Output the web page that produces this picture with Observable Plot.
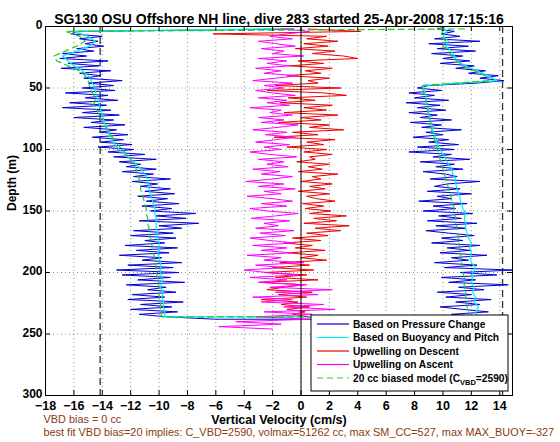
<!DOCTYPE html>
<html><head><meta charset="utf-8">
<script src="https://cdn.jsdelivr.net/npm/d3@7"></script>
<script src="https://cdn.jsdelivr.net/npm/@observablehq/plot@0.6"></script>
<style>
body{margin:0;background:#fff;}
#chart{width:560px;height:442px;}
</style></head><body><div id="chart"></div>
<script>
// ---- data: [depth (m), vertical velocity (cm/s)] ----
const pressureDescent = [[2,-0.5],[4,-15.8],[6,-16.2],[8,-14.0],[10,-15.6],[12,-14.3],[14,-15.2],[16,-13.9],[18,-15.8],[20,-14.6],[22,-16.8],[24,-15.1],[26,-17.0],[28,-13.6],[30,-16.4],[32,-14.2],[34,-16.9],[36,-13.4],[38,-15.6],[40,-14.1],[42,-15.3],[44,-12.6],[46,-15.0],[48,-13.2],[50,-15.4],[52,-13.1],[54,-16.6],[56,-13.6],[58,-15.2],[60,-12.9],[62,-16.3],[64,-13.7],[66,-16.8],[68,-13.4],[70,-15.4],[72,-12.8],[74,-16.0],[76,-13.2],[78,-14.8],[80,-12.4],[82,-15.3],[84,-13.0],[86,-14.2],[88,-12.2],[90,-14.7],[92,-12.5],[94,-14.1],[96,-11.9],[98,-14.3],[100,-11.8],[102,-13.6],[104,-11.0],[106,-13.2],[108,-10.2],[110,-12.8],[112,-11.3],[114,-12.3],[116,-10.2],[118,-12.6],[120,-10.4],[122,-11.8],[124,-9.2],[126,-11.9],[128,-10.1],[130,-11.3],[132,-9.2],[134,-11.0],[136,-8.9],[138,-11.5],[140,-9.4],[142,-10.9],[144,-8.6],[146,-11.2],[148,-9.1],[150,-10.6],[152,-7.4],[154,-10.2],[156,-8.1],[158,-11.4],[160,-7.2],[162,-10.0],[164,-8.4],[166,-11.8],[168,-9.0],[170,-12.0],[172,-8.8],[174,-11.0],[176,-9.6],[178,-12.4],[180,-8.7],[182,-11.6],[184,-9.3],[186,-12.8],[188,-9.8],[190,-11.2],[192,-8.4],[194,-12.2],[196,-9.0],[198,-13.0],[200,-8.6],[202,-12.6],[204,-9.2],[206,-11.5],[208,-8.2],[210,-12.3],[212,-9.5],[214,-10.8],[216,-8.8],[218,-11.9],[220,-9.6],[222,-12.2],[224,-8.3],[226,-11.3],[228,-9.1],[230,-12.0],[232,-8.7],[234,-11.4],[236,-9.5],[238,-6.0]];
const pressureAscent = [[238,11.0],[236,12.8],[234,10.6],[232,13.2],[230,11.4],[228,9.8],[226,12.6],[224,10.9],[222,13.4],[220,10.2],[218,12.0],[216,9.6],[214,12.9],[212,11.1],[210,14.6],[208,10.4],[206,12.3],[204,9.9],[202,13.8],[200,11.2],[198,14.9],[196,10.1],[194,12.4],[192,9.4],[190,11.8],[188,10.6],[186,13.1],[184,9.8],[182,11.9],[180,10.3],[178,12.6],[176,9.2],[174,11.4],[172,9.9],[170,12.2],[168,10.4],[166,8.8],[164,11.6],[162,9.5],[160,12.4],[158,8.9],[156,11.3],[154,9.7],[152,12.1],[150,8.6],[148,10.9],[146,9.3],[144,11.7],[142,8.3],[140,10.6],[138,9.6],[136,12.0],[134,8.9],[132,11.2],[130,9.4],[128,10.3],[126,12.6],[124,9.1],[122,11.0],[120,10.2],[118,8.6],[116,11.4],[114,9.5],[112,10.8],[110,8.4],[108,11.9],[106,9.3],[104,10.6],[102,7.6],[100,10.8],[98,8.2],[96,11.1],[94,9.0],[92,10.4],[90,7.9],[88,10.0],[86,8.8],[84,11.3],[82,8.5],[80,9.9],[78,7.7],[76,10.6],[74,8.4],[72,9.6],[70,7.6],[68,10.2],[66,8.2],[64,9.8],[62,7.4],[60,10.4],[58,8.0],[56,9.4],[54,7.6],[52,9.9],[50,8.2],[48,9.0],[46,12.4],[44,14.3],[42,12.6],[40,13.9],[38,11.8],[36,13.0],[34,10.9],[32,12.2],[30,9.8],[28,11.9],[26,10.0],[24,11.4],[22,9.2],[20,12.3],[18,9.6],[16,11.8],[14,9.0],[12,12.6],[10,9.4],[8,11.2],[6,9.9],[4,10.8],[2,9.6],[0,10.2]];
const buoyancyDescent = [[2,-2.0],[4,-16.0],[8,-15.0],[12,-14.5],[16,-14.9],[20,-15.8],[24,-16.8],[28,-16.4],[32,-16.0],[36,-15.4],[40,-15.0],[44,-14.8],[48,-14.6],[52,-14.5],[56,-14.4],[60,-14.3],[64,-14.2],[68,-14.1],[72,-14.0],[76,-13.9],[80,-13.8],[84,-13.6],[88,-13.5],[92,-13.4],[96,-13.1],[100,-12.8],[104,-12.4],[108,-12.0],[112,-11.6],[116,-11.3],[120,-11.0],[124,-10.8],[128,-10.8],[132,-10.7],[136,-10.6],[140,-10.5],[144,-10.4],[148,-10.3],[152,-10.3],[156,-10.2],[160,-10.2],[164,-10.2],[168,-10.1],[172,-10.1],[176,-10.0],[180,-10.0],[184,-10.1],[188,-10.0],[192,-9.9],[196,-9.9],[200,-9.9],[204,-9.8],[208,-9.8],[212,-9.9],[216,-9.7],[220,-9.8],[224,-9.7],[228,-9.7],[232,-9.6],[236,-9.6]];
const buoyancyAscent = [[236,12.4],[232,12.3],[228,12.5],[224,12.2],[220,12.3],[216,12.1],[212,12.2],[208,12.0],[204,12.1],[200,12.1],[196,12.3],[192,12.0],[188,11.9],[184,12.0],[180,11.9],[176,12.0],[172,11.8],[168,11.7],[164,11.6],[160,11.6],[156,11.5],[152,11.6],[148,11.4],[144,11.3],[140,11.2],[136,11.1],[132,11.0],[128,10.9],[124,10.9],[120,10.7],[116,10.6],[112,10.4],[108,10.2],[104,10.0],[100,9.8],[96,9.6],[92,9.5],[88,9.4],[84,9.3],[80,9.2],[76,9.1],[72,9.0],[68,9.0],[64,8.9],[60,8.8],[56,8.8],[52,8.7],[48,8.6],[44,13.8],[40,13.2],[36,12.4],[32,11.6],[28,11.0],[24,10.8],[20,10.6],[16,10.2],[12,10.4],[8,10.0],[4,10.3],[0,9.8]];
const upwellingDescent = [[2,0.5],[4,4.2],[6,-6.2],[8,1.8],[10,0.4],[12,2.6],[14,0.2],[16,1.9],[18,-0.4],[20,2.4],[22,0.8],[24,3.0],[26,4.0],[28,-0.2],[30,1.6],[32,-0.8],[34,2.2],[36,0.3],[38,1.4],[40,-1.0],[42,2.0],[44,0.5],[46,1.2],[48,-1.8],[50,2.8],[52,-2.4],[54,1.6],[56,3.2],[58,-0.9],[60,1.0],[62,-1.5],[64,2.2],[66,0.2],[68,1.8],[70,-1.2],[72,2.6],[74,0.0],[76,1.4],[78,-1.6],[80,2.0],[82,0.6],[84,3.0],[86,-0.6],[88,1.2],[90,-1.9],[92,2.4],[94,0.4],[96,1.6],[98,-1.0],[100,1.8],[102,0.2],[104,2.2],[106,0.6],[108,1.0],[110,-0.3],[112,2.0],[114,0.5],[116,1.5],[118,-0.2],[120,2.6],[122,0.8],[124,1.4],[126,0.0],[128,2.2],[130,0.6],[132,1.7],[134,-0.2],[136,2.0],[138,0.4],[140,1.1],[142,2.4],[144,0.1],[146,1.6],[148,0.3],[150,2.1],[152,0.6],[154,3.2],[156,0.9],[158,2.5],[160,0.2],[162,3.4],[164,1.0],[166,2.8],[168,0.4],[170,1.9],[172,-0.6],[174,1.4],[176,-1.2],[178,0.8],[180,-0.4],[182,1.7],[184,-0.9],[186,1.2],[188,0.0],[190,1.8],[192,-1.5],[194,0.6],[196,-2.0],[198,0.9],[200,-2.6],[202,0.4],[204,-1.8],[206,1.2],[208,-2.9],[210,0.2],[212,-1.2],[214,-2.4],[216,0.8],[218,-1.6],[220,0.4],[222,-2.8],[224,-0.2],[226,-1.4],[228,0.6],[230,-1.0],[232,0.3],[234,-0.6],[236,0.5]];
const upwellingAscent = [[246,-2.0],[244,-5.8],[242,-1.4],[240,-4.6],[238,0.6],[236,-3.2],[234,0.8],[232,-2.6],[230,2.4],[228,-1.2],[226,1.6],[224,-2.8],[222,-0.6],[220,-3.4],[218,1.2],[216,-1.8],[214,2.2],[212,-2.2],[210,0.4],[208,-3.0],[206,-1.0],[204,-3.6],[202,-0.2],[200,-2.4],[198,-4.0],[196,-1.2],[194,-3.2],[192,0.2],[190,-2.6],[188,-1.4],[186,-3.8],[184,-0.6],[182,-2.8],[180,-1.0],[178,-3.4],[176,-0.4],[174,-2.2],[172,-3.6],[170,-1.1],[168,-2.9],[166,-0.5],[164,-3.2],[162,-1.6],[160,-2.6],[158,-0.8],[156,-3.5],[154,-1.8],[152,-0.2],[150,-2.4],[148,-3.6],[146,-1.0],[144,-2.8],[142,-0.6],[140,-2.0],[138,-3.8],[136,-1.4],[134,-2.6],[132,-0.4],[130,-3.0],[128,-1.2],[126,-3.9],[124,-2.0],[122,-0.6],[120,-2.8],[118,-1.5],[116,-3.4],[114,-0.9],[112,-2.4],[110,-1.2],[108,-3.0],[106,-0.3],[104,-2.2],[102,-3.6],[100,-1.4],[98,-2.6],[96,-0.8],[94,-3.2],[92,-1.8],[90,-0.4],[88,-2.5],[86,-1.0],[84,-3.4],[82,-1.6],[80,-0.2],[78,-2.8],[76,-1.2],[74,-3.0],[72,-0.6],[70,-2.2],[68,-1.4],[66,-3.6],[64,-0.8],[62,-2.4],[60,-1.0],[58,-3.0],[56,-0.4],[54,-2.0],[52,-3.2],[50,-1.2],[48,-2.6],[46,-0.6],[44,-3.4],[42,-1.8],[40,-0.2],[38,-2.6],[36,-1.4],[34,-3.2],[32,-0.8],[30,-2.4],[28,-1.0],[26,-3.0],[24,0.2],[22,-2.0],[20,-1.2],[18,-2.8],[16,-0.4],[14,-1.8],[12,-3.0],[10,-0.6],[8,-2.2],[6,-1.0],[4,0.6],[2,-1.4]];
const modelDescent = [[2,11.5],[4,-16.6],[8,-15.6],[12,-15.2],[16,-15.8],[20,-16.6],[24,-17.4],[28,-17.2],[32,-16.4],[36,-15.6],[40,-15.2],[44,-15.0],[48,-14.9],[52,-14.8],[56,-14.6],[60,-14.5],[64,-14.6],[68,-14.4],[72,-14.2],[76,-14.1],[80,-13.9],[84,-13.6],[88,-13.4],[92,-13.2],[96,-12.9],[100,-12.6],[104,-12.3],[108,-12.0],[112,-11.8],[116,-11.6],[120,-11.5],[124,-11.4],[128,-11.3],[132,-11.3],[136,-11.2],[140,-11.1],[144,-11.0],[148,-10.9],[152,-10.9],[156,-10.8],[160,-10.8],[164,-10.7],[168,-10.7],[172,-10.6],[176,-10.5],[180,-10.5],[184,-10.4],[188,-10.3],[192,-10.3],[196,-10.2],[200,-10.2],[204,-10.1],[208,-10.1],[212,-10.0],[216,-10.0],[220,-10.0],[224,-9.9],[228,-9.9],[232,-9.9],[236,-9.8]];
const modelAscent = [[236,11.8],[232,11.8],[228,11.7],[224,11.7],[220,11.6],[216,11.6],[212,11.5],[208,11.5],[204,11.5],[200,11.4],[196,11.4],[192,11.3],[188,11.3],[184,11.2],[180,11.2],[176,11.1],[172,11.1],[168,11.0],[164,11.0],[160,10.9],[156,10.9],[152,10.8],[148,10.8],[144,10.7],[140,10.6],[136,10.5],[132,10.4],[128,10.3],[124,10.2],[120,10.1],[116,10.0],[112,9.9],[108,9.8],[104,9.7],[100,9.6],[96,9.5],[92,9.4],[88,9.3],[84,9.2],[80,9.2],[76,9.1],[72,9.0],[68,8.9],[64,8.9],[60,8.8],[56,8.7],[52,8.6],[48,8.5],[44,13.2],[40,13.0],[36,12.2],[32,11.4],[28,11.0],[24,10.6],[20,10.4],[16,10.0],[12,10.2],[8,9.8],[4,10.0],[0,9.6]];
const speedLimits = [-14.15, 14.2];
const xTicks = [-18,-16,-14,-12,-10,-8,-6,-4,-2,0,2,4,6,8,10,12,14];
const yTicks = [0,50,100,150,200,250,300];
const legendLabels = ["Based on Pressure Change","Based on Buoyancy and Pitch","Upwelling on Descent","Upwelling on Ascent"];
const titleText = "SG130 OSU Offshore NH line, dive 283 started 25-Apr-2008 17:15:16";
const xLabel = "Vertical Velocity (cm/s)";
const yLabel = "Depth (m)";
const note1 = "VBD bias = 0 cc";
const note2 = "best fit VBD bias=20 implies: C_VBD=2590, volmax=51262 cc, max SM_CC=527, max MAX_BUOY=-327";

const C = {blue:"#0000d8", cyan:"#00f0f0", red:"#f00000", magenta:"#ff00ff", green:"#22cc22", brown:"#8b3a0f"};
const font = "'Liberation Sans', Arial, Helvetica, sans-serif";
const W = 560, H = 442, mT = 26, mB = 47, mL = 45, mR = 48;
const innerW = W - mL - mR, innerH = H - mT - mB;

const X = d => d[1], Y = d => d[0];
const plot = Plot.plot({
  width: W, height: H, marginTop: mT, marginBottom: mB, marginLeft: mL, marginRight: mR,
  x: {domain: [-18, 14.9], label: null},
  y: {domain: [0, 300], reverse: true, label: null},
  style: {fontFamily: font, fontSize: "12px", color: "#000", background: "#fff", overflow: "visible"},
  marks: [
    Plot.gridX(xTicks.slice(1), {stroke: "#000", strokeOpacity: 0.45, strokeDasharray: "1,3"}),
    Plot.gridY(yTicks.slice(1, -1), {stroke: "#000", strokeOpacity: 0.45, strokeDasharray: "1,3"}),
    Plot.ruleX(speedLimits, {stroke: "#333", strokeWidth: 1.3, strokeDasharray: "7,4"}),
    Plot.line(pressureDescent.concat(pressureAscent), {x: X, y: Y, stroke: C.blue, strokeWidth: 1}),
    Plot.line(buoyancyDescent.concat(buoyancyAscent), {x: X, y: Y, stroke: C.cyan, strokeWidth: 1.2}),
    Plot.line(upwellingDescent, {x: X, y: Y, stroke: C.red, strokeWidth: 1}),
    Plot.line(upwellingAscent, {x: X, y: Y, stroke: C.magenta, strokeWidth: 1}),
    Plot.line(modelDescent.concat(modelAscent), {x: X, y: Y, stroke: C.green, strokeWidth: 1.2, strokeDasharray: "6,4"}),
    Plot.ruleX([0], {stroke: "#000", strokeWidth: 1}),
    Plot.frame({stroke: "#000", strokeWidth: 1}),
    Plot.tickX(xTicks, {x: d => d, insetTop: innerH - 5, stroke: "#000"}),
    Plot.tickX(xTicks, {x: d => d, insetBottom: innerH - 5, stroke: "#000"}),
    Plot.tickY(yTicks, {y: d => d, insetRight: innerW - 5, stroke: "#000"}),
    Plot.tickY(yTicks, {y: d => d, insetLeft: innerW - 5, stroke: "#000"}),
    Plot.axisX(xTicks, {tickSize: 0, tickPadding: 6, fontWeight: "bold", fontSize: 12.5, label: null}),
    Plot.axisY(yTicks, {tickSize: 0, tickPadding: 3, fontWeight: "bold", fontSize: 12, dy: -1, label: null}),
    Plot.text([titleText], {frameAnchor: "top", dy: -12, fontWeight: "bold", fontSize: 14, text: d => d}),
    Plot.text([xLabel], {frameAnchor: "bottom", dy: 28, fontWeight: "bold", fontSize: 12.5, text: d => d}),
    Plot.text([yLabel], {frameAnchor: "left", dx: -33, rotate: -90, fontWeight: "bold", fontSize: 12, text: d => d}),
    Plot.text([note1], {frameAnchor: "bottom-left", dx: -2, dy: 27, textAnchor: "start", fill: C.brown, fontSize: 10.9, text: d => d}),
    Plot.text([note2], {frameAnchor: "bottom-left", dx: -2, dy: 40, textAnchor: "start", fill: C.brown, fontSize: 10.9, text: d => d})
  ]
});
document.getElementById("chart").appendChild(plot);

// legend (inside plot, lower right)
const svg = d3.select(plot);
const lg = svg.append("g").attr("font-family", font).attr("font-size", 10.2).attr("font-weight", "bold").attr("text-anchor", "start");
const lx = 311, ly = 315, lw = 197, lh = 76;
lg.append("rect").attr("x", lx).attr("y", ly).attr("width", lw).attr("height", lh).attr("fill", "#fff").attr("stroke", "#000");
const lColors = [C.blue, C.cyan, C.red, C.magenta];
legendLabels.forEach((t, i) => {
  const yy = ly + 9 + i * 13.5;
  lg.append("line").attr("x1", lx + 6).attr("x2", lx + 38).attr("y1", yy).attr("y2", yy).attr("stroke", lColors[i]).attr("stroke-width", 1.2);
  lg.append("text").attr("x", lx + 42).attr("y", yy).attr("dy", "0.35em").text(t);
});
{
  const yy = ly + 9 + 4 * 13.5;
  lg.append("line").attr("x1", lx + 6).attr("x2", lx + 38).attr("y1", yy).attr("y2", yy).attr("stroke", C.green).attr("stroke-width", 1.2).attr("stroke-dasharray", "6,4");
  const tx = lg.append("text").attr("x", lx + 42).attr("y", yy).attr("dy", "0.35em");
  tx.append("tspan").text("20 cc biased model (C");
  tx.append("tspan").attr("font-size", 7.5).attr("dy", 3).text("VBD");
  tx.append("tspan").attr("dy", -3).text("=2590)");
}
</script></body></html>
